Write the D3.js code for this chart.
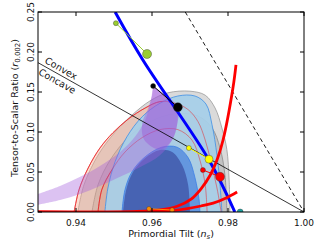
<!DOCTYPE html>
<html>
<head>
<meta charset="utf-8">
<script src="https://cdn.jsdelivr.net/npm/d3@7/dist/d3.min.js"></script>
<style>
  body { margin: 0; background: #fff; }
  svg text { font-family: "DejaVu Sans", sans-serif; fill: #111; }
</style>
</head>
<body>
<div id="chart"></div>
<script>
// axis ticks
const nsTicks = [0.94, 0.96, 0.98, 1.00];
const rTicks = [0.00, 0.05, 0.10, 0.15, 0.20, 0.25];

// contours, [ns, r]
const grey95 = [[0.9405,0],[0.9421,0.034],[0.9458,0.071],[0.9503,0.100],[0.9547,0.121],[0.9595,0.139],[0.9642,0.149],[0.9700,0.151],[0.9740,0.146],[0.9766,0.130],[0.9784,0.105],[0.9797,0.078],[0.9803,0.040],[0.9805,0]];
const grey68 = [[0.9442,0],[0.9458,0.034],[0.9490,0.065],[0.9537,0.093],[0.9595,0.113],[0.9661,0.123],[0.9721,0.120],[0.9758,0.105],[0.9779,0.080],[0.9792,0.046],[0.9797,0]];
const red95 = [[0.9395,0],[0.9408,0.028],[0.9432,0.055],[0.9463,0.080],[0.9497,0.099],[0.9537,0.116],[0.9582,0.130],[0.9621,0.138],[0.9661,0.136],[0.9695,0.128],[0.9721,0.113],[0.9740,0.090],[0.9755,0.063],[0.9771,0.030],[0.9782,0]];
const red68 = [[0.9458,0],[0.9468,0.028],[0.9495,0.053],[0.9529,0.075],[0.9574,0.093],[0.9621,0.103],[0.9668,0.103],[0.9705,0.090],[0.9726,0.065],[0.9740,0.034],[0.9745,0]];
const blue95 = [[0.9476,0],[0.9484,0.030],[0.9503,0.063],[0.9534,0.094],[0.9574,0.119],[0.9621,0.136],[0.9668,0.145],[0.9713,0.145],[0.9742,0.135],[0.9758,0.109],[0.9771,0.071],[0.9779,0.034],[0.9784,0]];
const blue68 = [[0.9521,0],[0.9529,0.028],[0.9547,0.050],[0.9582,0.069],[0.9626,0.081],[0.9666,0.081],[0.9695,0.068],[0.9713,0.043],[0.9724,0.015],[0.9726,0]];
const blueCore = [[0.9524,0],[0.9532,0.0275],[0.9550,0.050],[0.9582,0.0675],[0.9621,0.0775],[0.9653,0.075],[0.9679,0.059],[0.9695,0.034],[0.9700,0]];

// natural inflation band: N=50 edge (bottom to top) then N=60 edge (top to bottom)
const naturalN50 = [[0.9300,0.0225],[0.9358,0.0325],[0.9411,0.044],[0.9463,0.0575],[0.9516,0.075],[0.9555,0.094],[0.9582,0.115],[0.9595,0.135],[0.9603,0.1575]];
const naturalN60 = [[0.9668,0.131],[0.9666,0.109],[0.9653,0.090],[0.9621,0.071],[0.9568,0.056],[0.9516,0.044],[0.9463,0.0325],[0.9411,0.0225],[0.9358,0.015],[0.9300,0.009]];
const naturalTop = [[0.9603,0.1575],[0.9668,0.131],[0.9666,0.109],[0.9653,0.090],[0.9621,0.078],[0.9580,0.090],[0.9574,0.110],[0.9590,0.130],[0.9600,0.145]];

// model lines
const lowScaleLine = [[0.9503,0.25],[0.9576,0.19],[0.9750,0.065],[0.9818,0]];
const hilltopA = [[0.9821,0.184],[0.9813,0.155],[0.9787,0.090],[0.9771,0.065],[0.9753,0.046],[0.9729,0.029],[0.9703,0.016],[0.9668,0.0075],[0.9621,0.0025],[0.9550,0.0005],[0.9300,0]];
const hilltopB = [[0.9824,0.025],[0.9795,0.0175],[0.9761,0.011],[0.9729,0.0075],[0.9689,0.004],[0.9650,0.0015],[0.9600,0.0002],[0.9300,0]];
const convexNs = [0.93, 1.00];
const powerLawNs = [0.96875, 1.00];

// N=50 / N=60 predictions
const phi3 = [[0.9505,0.236],[0.9587,0.1975]];
const phi2 = [[0.9603,0.1575],[0.9668,0.131]];
const phi1 = [[0.9697,0.080],[0.9750,0.066]];
const phi23 = [[0.9734,0.0525],[0.9779,0.044]];
const r2 = [[0.9592,0.004],[0.9653,0.0025]];
const ssb = [[0.9832,0.0]];

const width = 323, height = 244;
const margin = { top: 12, right: 19, bottom: 32, left: 38 };

const x = d3.scaleLinear().domain([0.93, 1.00]).range([margin.left, width - margin.right]);
const y = d3.scaleLinear().domain([0, 0.25]).range([height - margin.bottom, margin.top]);

const svg = d3.select('#chart').append('svg')
  .attr('width', width)
  .attr('height', height);

svg.append('clipPath').attr('id', 'plot-clip')
  .append('rect')
  .attr('x', x(0.93)).attr('y', y(0.25))
  .attr('width', x(1.0) - x(0.93)).attr('height', y(0) - y(0.25));

const plot = svg.append('g').attr('clip-path', 'url(#plot-clip)');

const smooth = d3.line().x(d => x(d[0])).y(d => y(d[1])).curve(d3.curveCatmullRom);
const straight = d3.line().x(d => x(d[0])).y(d => y(d[1]));

const region = (pts, fill, opacity, stroke, sw = 0.8) => {
  plot.append('path')
    .attr('d', smooth(pts) + 'Z')
    .attr('fill', fill)
    .attr('fill-opacity', opacity)
    .attr('stroke', stroke)
    .attr('stroke-width', sw);
};

region(grey95, '#dadada', 1, '#9a9a9a');
region(grey68, '#c2c2c2', 1, '#8a8a8a');
region(red95, '#f7a98c', 0.42, '#e8272a');
region(red68, '#f08a70', 0.2, '#e8272a');
region(blue95, '#a6cfe9', 0.92, '#3d8fe6');
region(blue68, '#6497df', 1, '#3d7fe6');
region(blueCore, '#4763b3', 1, 'none', 0);

// red contour edges show through the blue
[red95, red68].forEach(pts => {
  plot.append('path')
    .attr('d', smooth(pts))
    .attr('fill', 'none')
    .attr('stroke', '#e8272a')
    .attr('stroke-width', 0.6)
    .attr('stroke-opacity', 0.8);
});

// natural inflation
plot.append('path')
  .attr('d', smooth(naturalN50) + 'L' + smooth(naturalN60).slice(1) + 'Z')
  .attr('fill', '#a35fdc')
  .attr('fill-opacity', 0.38);
plot.append('path')
  .attr('d', smooth(naturalTop) + 'Z')
  .attr('fill', '#9a4fd8')
  .attr('fill-opacity', 0.4);

// convex / concave divider and power law
plot.append('path')
  .attr('d', straight(convexNs.map(n => [n, 8 / 3 * (1 - n)])))
  .attr('stroke', '#000').attr('stroke-width', 0.8).attr('fill', 'none');
plot.append('path')
  .attr('d', straight(powerLawNs.map(n => [n, 8 * (1 - n)])))
  .attr('stroke', '#000').attr('stroke-width', 0.9)
  .attr('stroke-dasharray', '4,3').attr('fill', 'none');

plot.append('path')
  .attr('d', smooth(lowScaleLine))
  .attr('stroke', '#0000ff').attr('stroke-width', 3).attr('fill', 'none');

[hilltopA, hilltopB].forEach(pts => {
  plot.append('path')
    .attr('d', smooth(pts))
    .attr('stroke', '#ff0000').attr('stroke-width', 2.8).attr('fill', 'none');
});

// model points, small = N50, large = N60
const models = [
  { pts: phi3, color: '#9acd32', rad: [2.5, 4.5] },
  { pts: phi2, color: '#000000', rad: [2.5, 4.5] },
  { pts: phi1, color: '#ffff00', rad: [2.5, 4] },
  { pts: phi23, color: '#ff0000', rad: [2.5, 4.5] },
  { pts: r2, color: '#ff8c00', rad: [2.3, 2.3] },
];
models.forEach(m => {
  plot.append('path')
    .attr('d', straight(m.pts))
    .attr('stroke', m.color).attr('stroke-width', 1).attr('fill', 'none');
  plot.selectAll(null)
    .data(m.pts)
    .enter()
    .append('circle')
    .attr('cx', d => x(d[0]))
    .attr('cy', d => y(d[1]))
    .attr('r', (d, i) => m.rad[i])
    .attr('fill', m.color)
    .attr('stroke', '#333')
    .attr('stroke-width', 0.4);
});
plot.selectAll(null)
  .data(ssb)
  .enter()
  .append('circle')
  .attr('cx', d => x(d[0]))
  .attr('cy', d => y(d[1]))
  .attr('r', 3)
  .attr('fill', '#1aa3a3')
  .attr('stroke', '#333').attr('stroke-width', 0.4);

// frame
svg.append('rect')
  .attr('x', x(0.93)).attr('y', y(0.25))
  .attr('width', x(1.0) - x(0.93)).attr('height', y(0) - y(0.25))
  .attr('fill', 'none').attr('stroke', '#000').attr('stroke-width', 1);

// ticks, inward on all sides
const tickLen = 4;
nsTicks.forEach(t => {
  svg.append('line').attr('x1', x(t)).attr('x2', x(t)).attr('y1', y(0)).attr('y2', y(0) - tickLen).attr('stroke', '#000');
  svg.append('line').attr('x1', x(t)).attr('x2', x(t)).attr('y1', y(0.25)).attr('y2', y(0.25) + tickLen).attr('stroke', '#000');
  svg.append('text')
    .attr('x', x(t)).attr('y', y(0) + 14)
    .attr('text-anchor', 'middle')
    .style('font-size', '9px')
    .text(t.toFixed(2));
});
rTicks.forEach(t => {
  svg.append('line').attr('x1', x(0.93)).attr('x2', x(0.93) + tickLen).attr('y1', y(t)).attr('y2', y(t)).attr('stroke', '#000');
  svg.append('line').attr('x1', x(1.0)).attr('x2', x(1.0) - tickLen).attr('y1', y(t)).attr('y2', y(t)).attr('stroke', '#000');
  svg.append('text')
    .attr('transform', `translate(${x(0.93) - 4},${y(t)}) rotate(-90)`)
    .attr('text-anchor', 'middle')
    .style('font-size', '9px')
    .text(t.toFixed(2));
});

// axis labels
const xl = svg.append('text')
  .attr('x', (x(0.93) + x(1.0)) / 2).attr('y', height - 7)
  .attr('text-anchor', 'middle')
  .style('font-size', '9.5px');
xl.append('tspan').text('Primordial Tilt (');
xl.append('tspan').style('font-style', 'italic').text('n');
xl.append('tspan').attr('baseline-shift', '-25%').style('font-size', '7px').style('font-style', 'italic').text('s');
xl.append('tspan').text(')');

const yl = svg.append('text')
  .attr('transform', `translate(18,${(y(0) + y(0.25)) / 2 - 4}) rotate(-90)`)
  .attr('text-anchor', 'middle')
  .style('font-size', '9.5px');
yl.append('tspan').text('Tensor-to-Scalar Ratio (');
yl.append('tspan').style('font-style', 'italic').text('r');
yl.append('tspan').attr('baseline-shift', '-25%').style('font-size', '7px').text('0.002');
yl.append('tspan').text(')');

// convex / concave labels along the divider
const ang = Math.atan2(y(0) - y(8 / 3 * 0.07), x(1.0) - x(0.93)) * 180 / Math.PI;
const lx = x(0.9312), ly = y(8 / 3 * (1 - 0.9312));
svg.append('text')
  .attr('transform', `translate(${lx},${ly}) rotate(${ang})`)
  .attr('y', -3)
  .style('font-size', '9.5px')
  .text('Convex');
svg.append('text')
  .attr('transform', `translate(${lx},${ly}) rotate(${ang})`)
  .attr('y', 10)
  .style('font-size', '9.5px')
  .text('Concave');
</script>
</body>
</html>
